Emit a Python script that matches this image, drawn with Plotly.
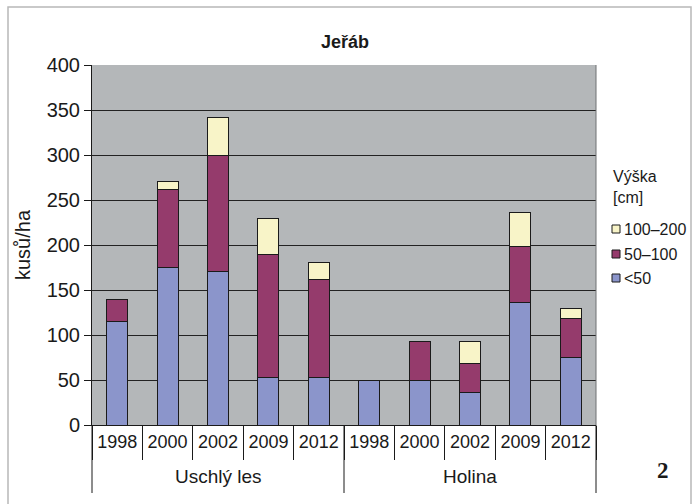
import plotly.graph_objects as go

# Seedling density of rowan (Jeřáb) by height class, site and year
site_names = ["Uschlý les", "Holina"]
year_labels = ["1998", "2000", "2002", "2009", "2012"]

under_50 = [115, 175, 171, 53, 53, 50, 50, 36, 136, 75]
h50_100 = [25, 87, 129, 136, 109, 0, 43, 32, 62, 43]
h100_200 = [0, 9, 42, 41, 19, 0, 0, 25, 38, 12]

series_names = ["<50", "50–100", "100–200"]
series_colors = ["#8b95cb", "#953b6c", "#f8f4c8"]
series_values = [under_50, h50_100, h100_200]

y_ticks = [0, 50, 100, 150, 200, 250, 300, 350, 400]

# unique category keys (site + year), shown with the year only
cat_keys = [f"{s} {y}" for s in site_names for y in year_labels]
cat_text = [y for s in site_names for y in year_labels]

L, R, T, B = 92, 102, 65, 79
W, H = 698, 504
PW, PH = W - L - R, H - T - B


def px_x(px):
    return (px - L) / PW


def px_y(py):
    return (H - B - py) / PH


font_family = "Liberation Sans, Arial, sans-serif"
ink = "#1a1a1a"

fig = go.Figure()
for name, color, vals in zip(series_names, series_colors, series_values):
    # empty classes are left out so no outline is drawn for them
    fig.add_trace(go.Bar(
        x=cat_keys,
        y=[v if v else None for v in vals],
        name=name,
        marker=dict(color=color, line=dict(color=ink, width=1)),
    ))

fig.update_layout(
    width=W,
    height=H,
    barmode="stack",
    bargap=0.58,
    margin=dict(l=L, r=R, t=T, b=B),
    paper_bgcolor="white",
    plot_bgcolor="#b4b7b9",
    font=dict(family=font_family, size=19, color=ink),
    showlegend=False,
    title=dict(
        text="<b>Jeřáb</b>",
        x=345 / W,
        xanchor="center",
        y=1 - 42 / H,
        yanchor="middle",
        font=dict(size=18, color=ink),
    ),
)

fig.update_yaxes(
    range=[0, 400],
    tickvals=y_ticks,
    showgrid=True,
    gridcolor="#222222",
    gridwidth=1,
    showline=True,
    linecolor=ink,
    linewidth=1,
    ticks="outside",
    ticklen=7,
    tickcolor=ink,
    zeroline=False,
    tickfont=dict(size=20),
    title=dict(text="kusů/ha", font=dict(size=20), standoff=10),
)

fig.update_xaxes(
    type="category",
    categoryorder="array",
    categoryarray=cat_keys,
    tickvals=cat_keys,
    ticktext=cat_text,
    tickson="boundaries",
    ticks="outside",
    ticklen=34,
    tickcolor=ink,
    showline=True,
    linecolor=ink,
    linewidth=1,
    tickfont=dict(size=18),
)

# right edge of plot area
fig.add_shape(type="line", xref="paper", yref="paper", x0=1, x1=1, y0=0, y1=1,
              line=dict(color="#6e7173", width=1))

# site group dividers below the axis
for gx in [0, 0.5, 1]:
    fig.add_shape(type="line", xref="paper", yref="paper",
                  x0=gx, x1=gx, y0=0, y1=px_y(493),
                  line=dict(color=ink, width=1))

# site group labels
for i, s in enumerate(site_names):
    fig.add_annotation(text=s, xref="paper", yref="paper",
                       x=0.25 + 0.5 * i, y=px_y(476),
                       showarrow=False, xanchor="center", yanchor="middle",
                       font=dict(size=19, color=ink))

# outer frame around the whole chart
fig.add_shape(type="rect", xref="paper", yref="paper",
              x0=px_x(8), x1=px_x(691), y0=px_y(512), y1=px_y(7),
              line=dict(color="#b8b8b8", width=1.5), fillcolor="rgba(0,0,0,0)",
              layer="below")

# legend: title and swatches, top item is the tallest class
fig.add_annotation(text="Výška<br>[cm]", xref="paper", yref="paper",
                   x=px_x(611), y=px_y(166), showarrow=False,
                   xanchor="left", yanchor="top", align="left",
                   font=dict(size=16, color=ink))
legend_rows = [229, 254, 278]
for name, color, row in zip(series_names[::-1], series_colors[::-1], legend_rows):
    fig.add_shape(type="rect", xref="paper", yref="paper",
                  x0=px_x(612), x1=px_x(620), y0=px_y(row + 4), y1=px_y(row - 4),
                  line=dict(color=ink, width=1), fillcolor=color)
    fig.add_annotation(text=name, xref="paper", yref="paper",
                       x=px_x(622), y=px_y(row), showarrow=False,
                       xanchor="left", yanchor="middle",
                       font=dict(size=16, color=ink))

fig.add_annotation(
    text="<b>2</b>", xref="paper", yref="paper",
    x=px_x(663), y=px_y(470),
    showarrow=False, xanchor="center", yanchor="middle",
    font=dict(family="Liberation Serif, DejaVu Serif, serif", size=23, color=ink),
)

fig.write_html("out.html")
